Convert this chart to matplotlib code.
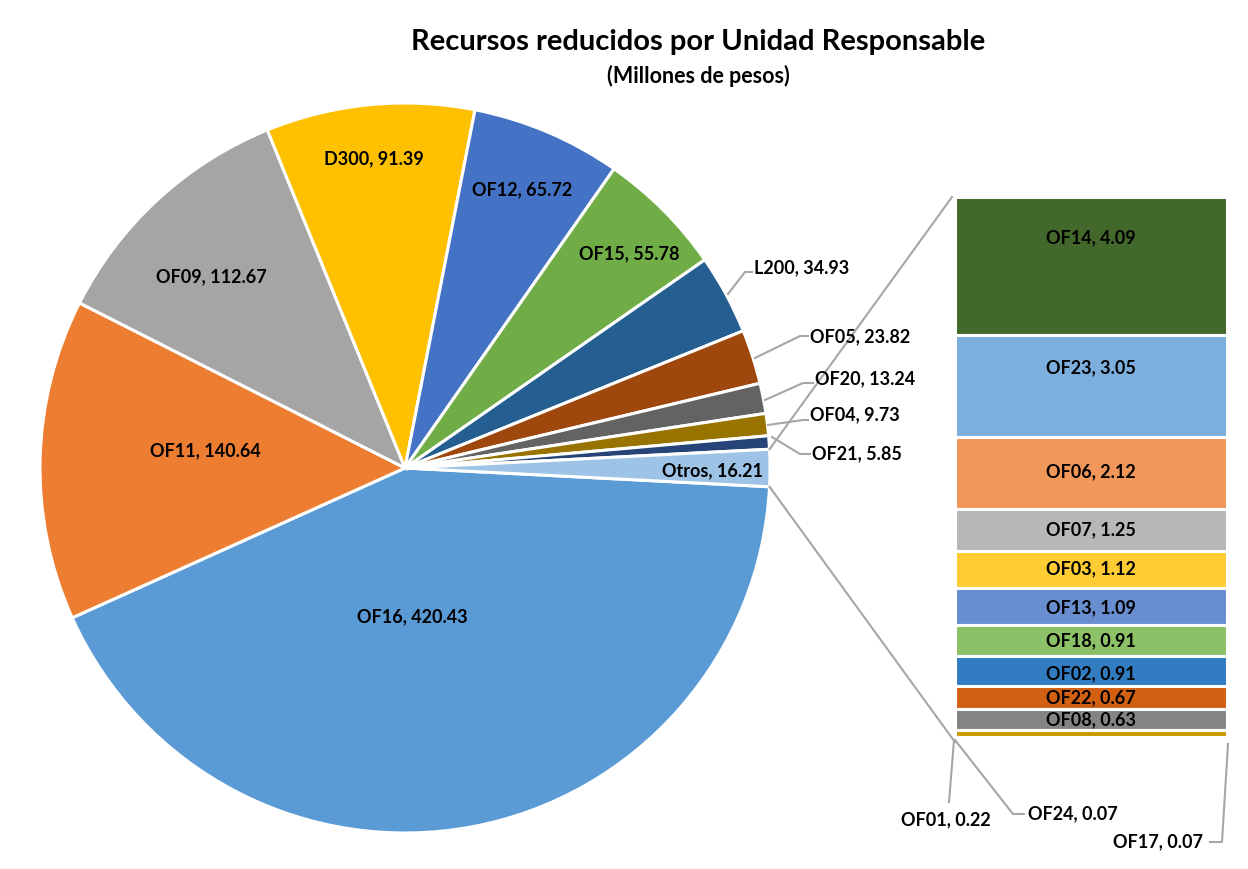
import matplotlib.pyplot as plt
import numpy as np

plt.rcParams['font.family'] = ['Lato', 'DejaVu Sans']

W, H = 1248, 869

# pie (main) data
pie_names = ['OF16', 'OF11', 'OF09', 'D300', 'OF12', 'OF15', 'L200',
             'OF05', 'OF20', 'OF04', 'OF21', 'Otros']
pie_vals = [420.43, 140.64, 112.67, 91.39, 65.72, 55.78, 34.93,
            23.82, 13.24, 9.73, 5.85, 16.21]
pie_colors = ['#5B9BD5', '#ED7D31', '#A5A5A5', '#FFC000', '#4472C4', '#70AD47',
              '#255E91', '#9E480E', '#636363', '#997300', '#264478', '#9DC3E6']

# "Otros" breakdown (bar)
bar_names = ['OF14', 'OF23', 'OF06', 'OF07', 'OF03', 'OF13', 'OF18',
             'OF02', 'OF22', 'OF08', 'OF01', 'OF24', 'OF17']
bar_vals = [4.09, 3.05, 2.12, 1.25, 1.12, 1.09, 0.91,
            0.91, 0.67, 0.63, 0.22, 0.07, 0.07]
bar_colors = ['#43682B', '#7CAFDD', '#F1975A', '#B7B7B7', '#FFCD33', '#698ED0',
              '#8CC168', '#327DC2', '#D26012', '#848484', '#CC9A00', '#7F7F7F', '#A5A5A5']

fig = plt.figure(figsize=(W / 100, H / 100), dpi=100)
ax = fig.add_axes([0, 0, 1, 1])

# geometry in pixel coords (y up)
cx, cy, R = 405, H - 468, 365
otros_ang = pie_vals[-1] / sum(pie_vals) * 360
wedges, _ = ax.pie(pie_vals, colors=pie_colors, startangle=-otros_ang / 2,
                   counterclock=False, radius=R, center=(cx, cy),
                   wedgeprops=dict(edgecolor='white', linewidth=2.2))

# stacked bar
bx0, bx1 = 955, 1227
btop = H - 197
scale = 33.65
bottom = btop
for name, v, c in zip(bar_names, bar_vals, bar_colors):
    h = v * scale
    bottom -= h
    ax.bar((bx0 + bx1) / 2, h, width=bx1 - bx0, bottom=bottom, color=c,
           edgecolor='white', linewidth=2.2)
bbot = bottom

ax.set_xlim(0, W)
ax.set_ylim(0, H)
ax.set_aspect('auto')
ax.axis('off')

lc = '#A6A6A6'
fs = 13

def Y(y):
    return H - y

# connector lines Otros -> bar
a = np.deg2rad(otros_ang / 2)
ax.plot([cx + R * np.cos(a), bx0 - 3], [cy + R * np.sin(a), btop], color=lc, lw=1.5)
ax.plot([cx + R * np.cos(a), bx0], [cy - R * np.sin(a), bbot], color=lc, lw=1.5)

# labels inside pie
inside_pos = {'OF16': (412, 617), 'OF11': (205, 451), 'OF09': (211, 277),
              'D300': (374, 159), 'OF12': (522, 190), 'OF15': (629, 254),
              'Otros': (712, 471)}
for n, v in zip(pie_names, pie_vals):
    if n in inside_pos:
        x, y = inside_pos[n]
        ax.text(x, Y(y), f'{n}, {v:.2f}', ha='center', va='center',
                fontsize=fs, fontweight='bold', color='black')

# labels outside pie with leader lines
outside = {
    'L200': ([(728, 294), (745, 272), (752, 272)], (754, 268)),
    'OF05': ([(755, 358), (800, 336), (808, 336)], (810, 337)),
    'OF20': ([(765, 400), (803, 383), (813, 383)], (815, 379)),
    'OF04': ([(768, 425), (803, 420), (808, 420)], (810, 415)),
    'OF21': ([(772, 437), (800, 454), (810, 454)], (812, 454)),
}
for n, v in zip(pie_names, pie_vals):
    if n in outside:
        pts, (tx, ty) = outside[n]
        ax.plot([p[0] for p in pts], [Y(p[1]) for p in pts], color=lc, lw=1.5)
        ax.text(tx, Y(ty), f'{n}, {v:.2f}', ha='left', va='center',
                fontsize=fs, fontweight='bold', color='black')

# bar labels
bar_label_y = [238, 368, 472, 530, 569, 608, 641, 674, 698, 720]
for n, v, ly in zip(bar_names, bar_vals, bar_label_y):
    ax.text((bx0 + bx1) / 2, Y(ly), f'{n}, {v:.2f}', ha='center', va='center',
            fontsize=fs, fontweight='bold', color='black')

# small bar segments with leader lines
small = {
    'OF01': ([(954, 740), (949, 802)], (946, 820), 'center'),
    'OF24': ([(955, 740), (1013, 814), (1024, 814)], (1028, 814), 'left'),
    'OF17': ([(1228, 744), (1222, 842), (1210, 842)], (1203, 842), 'right'),
}
for n, v in zip(bar_names, bar_vals):
    if n in small:
        pts, (tx, ty), ha = small[n]
        ax.plot([p[0] for p in pts], [Y(p[1]) for p in pts], color=lc, lw=1.5)
        ax.text(tx, Y(ty), f'{n}, {v:.2f}', ha=ha, va='center',
                fontsize=fs, fontweight='bold', color='black')

ax.text(698, Y(42), 'Recursos reducidos por Unidad Responsable', ha='center',
        va='center', fontsize=21, fontweight='bold', color='black')
ax.text(698, Y(76), '(Millones de pesos)', ha='center', va='center',
        fontsize=15.5, fontweight='bold', color='black')

fig.savefig('out.png', dpi=100, facecolor='white')
